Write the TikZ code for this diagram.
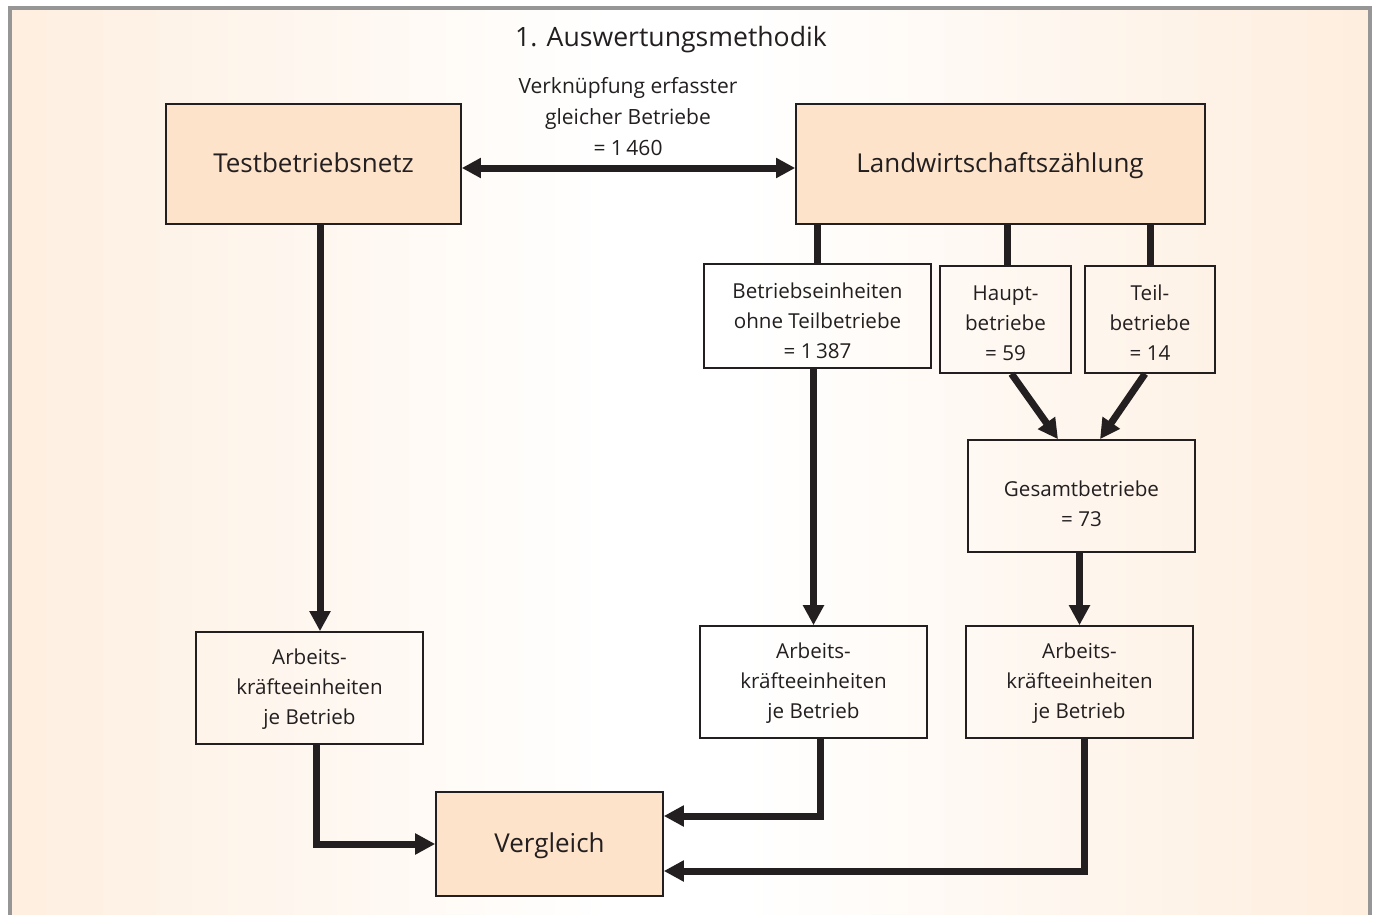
\documentclass[tikz,border=0pt]{standalone}
\usepackage{fontspec}
\setmainfont{Open Sans}
\usetikzlibrary{arrows.meta,positioning}
\definecolor{peach}{RGB}{253,225,198}
\definecolor{boxpeach}{RGB}{253,227,202}
\definecolor{ink}{RGB}{35,31,32}
\definecolor{framegray}{RGB}{150,150,150}
\pgfdeclarehorizontalshading{bgshade}{100bp}{color(0bp)=(peach); color(7bp)=(peach); color(47bp)=(white); color(52bp)=(white); color(92bp)=(peach); color(100bp)=(peach)}
\tikzset{
  box/.style={draw=ink, line width=0.8pt, rectangle, inner sep=0pt},
  bigbox/.style={box, fill=boxpeach},
  txt/.style={text=ink, align=center, inner sep=0pt, font=\fontsize{10.3}{15}\selectfont},
  bigtxt/.style={txt, font=\fontsize{13}{15}\selectfont},
  conn/.style={draw=ink, line width=3.5pt},
  arr/.style={conn, -{Triangle[length=10pt,width=10pt]}},
  lbl/.style={text=ink, align=center, inner sep=0pt}
}
\begin{document}
\begin{tikzpicture}[x=0.5pt,y=-0.5pt]
\useasboundingbox (0,0) rectangle (1376,915);
\fill[white] (0,0) rectangle (1376,915);
\shade[shading=bgshade] (10,8) rectangle (1370,925);
\draw[framegray, line width=1.6pt] (10,925) -- (10,8) -- (1370,8) -- (1370,925);

\node[lbl, font=\fontsize{13.3}{15}\selectfont] (title) at (671,40) {1. Auswertungsmethodik};
\node[lbl, font=\fontsize{10.5}{15.5}\selectfont] (link) at (628,117) {Verknüpfung erfasster\\gleicher Betriebe\\= 1\,460};

\node[bigbox, minimum width=147.5pt, minimum height=60pt] (tbn) at (313.5,164) {};
\node[bigtxt] (tbn-t) at (313.5,163) {Testbetriebsnetz};
\node[bigbox, minimum width=204.5pt, minimum height=60pt] (lwz) at (1000.5,164) {};
\node[bigtxt] (lwz-t) at (1000,166) {Landwirtschaftszählung};

\node[box, minimum width=113.5pt, minimum height=52pt] (bet) at (817.5,316) {};
\node[txt] (bet-t) at (817.5,321) {Betriebseinheiten\\ohne Teilbetriebe\\= 1\,387};
\node[box, minimum width=65.5pt, minimum height=53.5pt] (haupt) at (1005.5,319.5) {};
\node[txt] (haupt-t) at (1005.5,323) {Haupt-\\betriebe\\= 59};
\node[box, minimum width=65pt, minimum height=53.5pt] (teil) at (1150,319.5) {};
\node[txt] (teil-t) at (1150,323) {Teil-\\betriebe\\= 14};
\node[box, minimum width=113.5pt, minimum height=56pt] (ges) at (1081.5,496) {};
\node[txt] (ges-t) at (1081.5,504) {Gesamtbetriebe\\= 73};

\node[box, minimum width=113.5pt, minimum height=56pt] (ake1) at (309.5,688) {};
\node[txt] (ake1-t) at (309.5,689) {Arbeits-\\kräfteeinheiten\\je Betrieb};
\node[box, minimum width=113.5pt, minimum height=56pt] (ake2) at (813.5,682) {};
\node[txt] (ake2-t) at (813.5,683) {Arbeits-\\kräfteeinheiten\\je Betrieb};
\node[box, minimum width=113.5pt, minimum height=56pt] (ake3) at (1079.5,682) {};
\node[txt] (ake3-t) at (1079.5,683) {Arbeits-\\kräfteeinheiten\\je Betrieb};

\node[bigbox, minimum width=113.5pt, minimum height=52pt] (verg) at (549.5,844) {};
\node[bigtxt] (verg-t) at (549.5,846) {Vergleich};

% connectors
\draw[conn, {Triangle[length=9.5pt,width=9.5pt]}-{Triangle[length=9.5pt,width=9.5pt]}] ([yshift=-2pt]tbn.east) -- ([yshift=-2pt]lwz.west);

\draw[conn] (lwz.south -| bet.north) -- (bet.north);
\draw[conn] ([xshift=1pt]lwz.south -| haupt.north) -- ([xshift=1pt]haupt.north);
\draw[conn] (lwz.south -| teil.north) -- (teil.north);

\draw[arr] ([xshift=3pt]haupt.south) -- ([xshift=-11.75pt]ges.north);
\draw[arr] ([xshift=-2.5pt]teil.south) -- ([xshift=9.25pt]ges.north);

\draw[arr] (ges.south -| ake3.north) -- (ake3.north);
\draw[arr] ([xshift=3.25pt]tbn.south) -- ([xshift=3.25pt]tbn.south |- ake1.north);
\draw[arr] (ake2.north |- bet.south) -- (ake2.north);

\draw[arr] ([xshift=3.25pt]ake1.south) |- (verg.west);
\draw[arr] ([xshift=3.25pt]ake2.south) |- ([yshift=14pt]verg.east);
\draw[arr] ([xshift=2.25pt]ake3.south) |- ([yshift=-13.5pt]verg.east);
\end{tikzpicture}
\end{document}
